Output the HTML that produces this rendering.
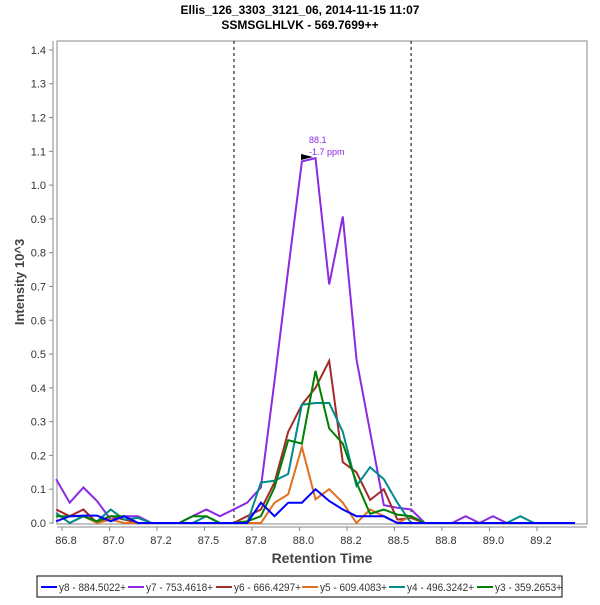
<!DOCTYPE html>
<html><head><meta charset="utf-8"><style>
body{margin:0;background:#fff;width:600px;height:600px;overflow:hidden;font-family:"Liberation Sans",sans-serif}
</style></head><body>
<svg id="c" width="600" height="600" xmlns="http://www.w3.org/2000/svg" font-family="Liberation Sans, sans-serif">
<text x="300" y="14" text-anchor="middle" font-size="12" font-weight="bold">Ellis_126_3303_3121_06, 2014-11-15 11:07</text>
<text x="300" y="29" text-anchor="middle" font-size="12" font-weight="bold">SSMSGLHLVK - 569.7699++</text>
<rect x="57" y="41" width="530" height="483" fill="#fff" stroke="#888"/>
<line x1="53" y1="41" x2="53" y2="524" stroke="#888"/>
<line x1="57" y1="527" x2="587" y2="527" stroke="#888"/>
<g id="yt"></g><g id="xt"></g><g id="series"></g>
<text x="24" y="282" transform="rotate(-90 24 282)" text-anchor="middle" font-size="13" font-weight="bold" fill="#444">Intensity 10^3</text>
<text x="322" y="563" text-anchor="middle" font-size="14" font-weight="bold" fill="#444">Retention Time</text>
<polygon points="301,154 301,160 313,157" fill="#000"/>
<text x="309" y="143" font-size="9" fill="#8a2be2">88.1</text>
<text x="309" y="155" font-size="9" fill="#8a2be2">-1.7 ppm</text>
<rect x="37" y="576" width="525" height="21" fill="#fff" stroke="#000"/>
<g id="lg"></g>
</svg>
<script>
const categories=["y8 - 884.5022+","y7 - 753.4618+","y6 - 666.4297+","y5 - 609.4083+","y4 - 496.3242+","y3 - 359.2653+"];
const colors=["#0000ff","#8a2be2","#a52a2a","#e07020","#008b8b","#008000"];
const t0=86.77, dt=0.069;
const y8=[0.005,0.02,0.022,0.022,0.005,0.02,0,0,0,0,0,0,0,0,0,0.06,0.02,0.06,0.06,0.10,0.065,0.04,0.02,0.02,0.02,0,0,0,0,0,0,0,0,0,0,0,0,0,0];
const y7=[0.13,0.06,0.105,0.065,0.01,0.02,0.02,0,0,0,0.02,0.04,0.02,0.04,0.06,0.105,0.42,0.75,1.07,1.08,0.706,0.907,0.484,0.27,0.053,0.045,0.04,0,0,0,0.02,0,0.02,0,0,0,0,0,0];
const y6=[0.04,0.02,0.04,0,0.02,0.01,0,0,0,0,0,0,0,0,0.02,0.04,0.12,0.27,0.35,0.40,0.48,0.18,0.15,0.068,0.10,0.01,0.015,0,0,0,0,0,0,0,0,0,0,0,0];
const y5=[0.03,0,0.02,0,0.01,0,0,0,0,0,0,0,0,0,0,0,0.06,0.085,0.225,0.07,0.10,0.06,0,0.04,0.02,0,0.02,0,0,0,0,0,0,0,0,0,0,0,0];
const y4=[0.03,0,0.02,0.005,0.04,0.01,0.015,0,0,0,0,0.02,0,0,0,0.12,0.125,0.145,0.35,0.355,0.355,0.27,0.11,0.165,0.13,0.06,0,0,0,0,0,0,0,0,0.02,0,0,0,0];
const y3=[0.02,0.02,0.02,0.005,0.02,0.02,0,0,0,0,0.02,0.02,0,0,0.005,0.02,0.105,0.245,0.235,0.45,0.28,0.235,0.12,0.027,0.04,0.025,0.02,0,0,0,0,0,0,0,0,0,0,0,0];
const series=[y8,y7,y6,y5,y4,y3];
const yTicks=[0,0.1,0.2,0.3,0.4,0.5,0.6,0.7,0.8,0.9,1.0,1.1,1.2,1.3,1.4];
const xTickLabels=["86.8","87.0","87.2","87.5","87.8","88.0","88.2","88.5","88.8","89.0","89.2"];
const xTickValues=[86.8,87.04,87.28,87.52,87.76,88.0,88.24,88.48,88.72,88.96,89.2];
const boundaries=[87.669,88.564];
const NS="http://www.w3.org/2000/svg";
const X=t=>62+(t-86.8)*197.9;
const Y=v=>523-v*337.9;
function mk(tag,attrs,parent){const e=document.createElementNS(NS,tag);for(const k in attrs)e.setAttribute(k,attrs[k]);parent.appendChild(e);return e;}
const yt=document.getElementById('yt');
yTicks.forEach(v=>{
 const l=mk('line',{x1:49,x2:53,y1:Y(v),y2:Y(v),stroke:'#888'},yt);
 
 
 const t=mk('text',{x:46,y:Y(v)+4,'text-anchor':'end','font-size':11,fill:'#333'},yt);
 
 
 t.textContent=v.toFixed(1);
});
const xt=document.getElementById('xt');
xTickValues.forEach((v,i)=>{
 const l=mk('line',{x1:X(v),x2:X(v),y1:527,y2:531,stroke:'#888'},xt);
 
 
 const t=mk('text',{x:X(v)+4,y:544,'text-anchor':'middle','font-size':11,fill:'#333'},xt);
 
 
 t.textContent=xTickLabels[i];
});
const sg=document.getElementById('series');
boundaries.forEach(b=>{
 const l=mk('line',{x1:X(b),x2:X(b),y1:41,y2:524,stroke:'#000','stroke-dasharray':'3,3'},sg);
 
 
});
[1,2,3,4,5,0].forEach(s=>{
 const pts=series[s].map((v,i)=>X(t0+dt*i).toFixed(1)+','+Y(v).toFixed(1)).join(' ');
 const p=mk('polyline',{points:pts,fill:'none',stroke:colors[s],'stroke-width':2},sg);
 
 
});
const lg=document.getElementById('lg');
const lx=[41,128,216,302,389,477];
categories.forEach((c,i)=>{
 const l=mk('line',{x1:lx[i],x2:lx[i]+16,y1:587,y2:587,stroke:colors[i],'stroke-width':2},lg);
 
 
 const t=mk('text',{x:lx[i]+18,y:591,'font-size':11,fill:'#333',textLength:67,lengthAdjust:'spacingAndGlyphs'},lg);
 
 
 t.textContent=c;
});
</script>
</body></html>
